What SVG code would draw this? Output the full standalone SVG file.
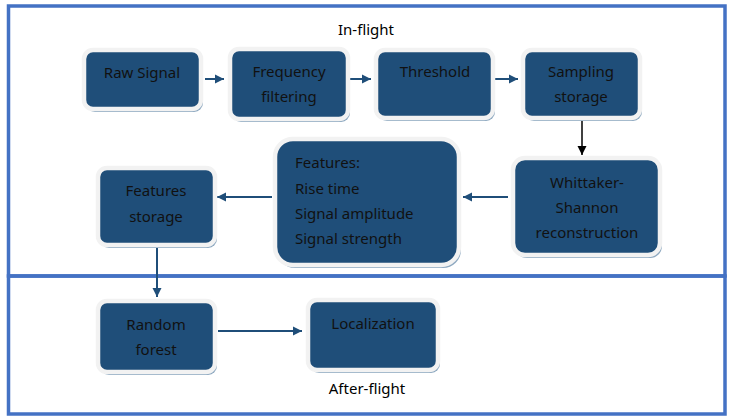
<svg xmlns="http://www.w3.org/2000/svg" width="731" height="419" viewBox="0 0 731 419">
<defs>
<style>
.frame{fill:none;stroke:#4472C4;stroke-width:3.5}
.sh{fill:#8DA8C0}
.box{fill:#1F4E79;stroke:#F2F2F2;stroke-width:4.5}
.t{font-family:"Noto Sans","Liberation Sans",sans-serif;font-size:15px;fill:#111;text-anchor:middle}
.tl{font-family:"Noto Sans","Liberation Sans",sans-serif;font-size:15px;fill:#111}
.lbl{font-family:"Noto Sans","Liberation Sans",sans-serif;font-size:15px;fill:#000;text-anchor:middle}
.c{stroke:#1F4E79;stroke-width:2;fill:none}
.k{stroke:#000;stroke-width:1.5;fill:none}
</style>
<marker id="ab" markerWidth="10" markerHeight="10" refX="9" refY="5" orient="auto" markerUnits="userSpaceOnUse"><path d="M0,0.5 L9,5 L0,9.5 Z" fill="#1F4E79"/></marker>
<marker id="ak" markerWidth="10" markerHeight="10" refX="9" refY="5" orient="auto" markerUnits="userSpaceOnUse"><path d="M0,0.5 L9,5 L0,9.5 Z" fill="#000"/></marker>
</defs>
<rect x="0" y="0" width="731" height="419" fill="#fff"/>
<g id="frames">
<rect class="frame" x="8.5" y="6" width="716.5" height="270"/>
<rect class="frame" x="8.5" y="276" width="716.5" height="138"/>
<text class="lbl" x="366" y="35">In-flight</text>
<text class="lbl" x="367" y="394">After-flight</text>
</g>
<g id="connectors">
<line class="c" x1="205" y1="79" x2="224" y2="79" marker-end="url(#ab)"/>
<line class="c" x1="350" y1="79" x2="371" y2="79" marker-end="url(#ab)"/>
<line class="c" x1="495" y1="79" x2="518" y2="79" marker-end="url(#ab)"/>
<line class="k" x1="582" y1="112" x2="582" y2="155" marker-end="url(#ak)"/>
<line class="c" x1="508" y1="197" x2="463" y2="197" marker-end="url(#ab)"/>
<line class="c" x1="272" y1="197" x2="217" y2="197" marker-end="url(#ab)"/>
<line class="c" x1="157" y1="244" x2="157" y2="297" marker-end="url(#ab)"/>
<line class="c" x1="218" y1="331" x2="302" y2="331" marker-end="url(#ab)"/>
</g>
<g id="raw-signal">
<rect class="sh" x="86" y="53" width="117" height="59" rx="9"/>
<rect class="box" x="84" y="50" width="117" height="59" rx="9"/>
<text class="t" x="142" y="78">Raw Signal</text>
</g>
<g id="frequency-filtering">
<rect class="sh" x="232" y="52" width="118" height="70" rx="9"/>
<rect class="box" x="230" y="49" width="118" height="70" rx="9"/>
<text class="t" x="289" y="77">Frequency</text>
<text class="t" x="289" y="102">filtering</text>
</g>
<g id="threshold">
<rect class="sh" x="378" y="53" width="117" height="68" rx="9"/>
<rect class="box" x="376" y="50" width="117" height="68" rx="9"/>
<text class="t" x="435" y="77">Threshold</text>
</g>
<g id="sampling-storage">
<rect class="sh" x="525" y="53" width="117" height="68" rx="9"/>
<rect class="box" x="523" y="50" width="117" height="68" rx="9"/>
<text class="t" x="581" y="77">Sampling</text>
<text class="t" x="581" y="102">storage</text>
</g>
<g id="whittaker-shannon">
<rect class="sh" x="515" y="161" width="147" height="97" rx="12"/>
<rect class="box" x="513" y="158" width="147" height="97" rx="12"/>
<text class="t" x="587" y="188">Whittaker-</text>
<text class="t" x="587" y="213">Shannon</text>
<text class="t" x="587" y="238">reconstruction</text>
</g>
<g id="features">
<rect class="sh" x="277" y="142" width="184" height="126" rx="18"/>
<rect class="box" x="275" y="139" width="184" height="126" rx="18"/>
<text class="tl" x="295" y="168">Features:</text>
<text class="tl" x="295" y="194">Rise time</text>
<text class="tl" x="295" y="219">Signal amplitude</text>
<text class="tl" x="295" y="244">Signal strength</text>
</g>
<g id="features-storage">
<rect class="sh" x="100" y="171" width="117" height="77" rx="9"/>
<rect class="box" x="98" y="168" width="117" height="77" rx="9"/>
<text class="t" x="156" y="196">Features</text>
<text class="t" x="156" y="222">storage</text>
</g>
<g id="random-forest">
<rect class="sh" x="100" y="304" width="117" height="71" rx="9"/>
<rect class="box" x="98" y="301" width="117" height="71" rx="9"/>
<text class="t" x="156" y="330">Random</text>
<text class="t" x="156" y="355">forest</text>
</g>
<g id="localization">
<rect class="sh" x="310" y="303" width="130" height="70" rx="9"/>
<rect class="box" x="308" y="300" width="130" height="70" rx="9"/>
<text class="t" x="373" y="329">Localization</text>
</g>
</svg>
